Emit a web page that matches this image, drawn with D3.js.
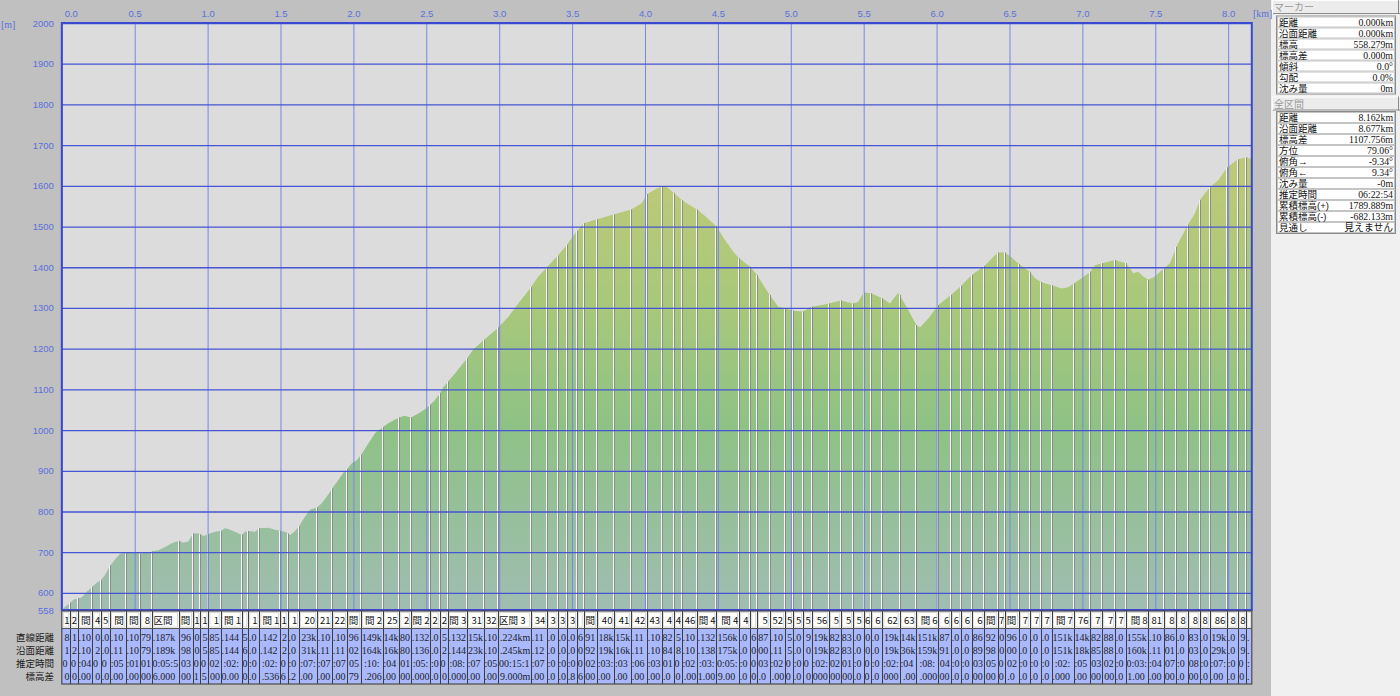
<!DOCTYPE html>
<html><head><meta charset="utf-8">
<script src="https://cdn.jsdelivr.net/npm/d3@7"></script>
<style>body{margin:0;background:#c0c0c0;} svg{display:block}</style>
</head><body><svg id="c" width="1400" height="696"></svg>
<script>
// ---------------- data ----------------
const profileKm = [0,0.022,0.058,0.079,0.109,0.136,0.171,0.209,0.239,0.269,0.296,0.331,0.365,0.399,0.438,0.502,0.538,0.582,0.617,0.662,0.708,0.754,0.804,0.833,0.868,0.900,0.936,0.975,1.005,1.051,1.090,1.119,1.142,1.188,1.234,1.257,1.279,1.325,1.355,1.416,1.462,1.531,1.565,1.595,1.627,1.668,1.702,1.750,1.783,1.817,1.855,1.896,1.931,1.956,1.988,2.023,2.057,2.102,2.148,2.201,2.239,2.285,2.315,2.349,2.395,2.445,2.491,2.527,2.560,2.592,2.617,2.647,2.697,2.743,2.779,2.822,2.894,2.949,2.994,3.062,3.131,3.177,3.218,3.268,3.328,3.401,3.465,3.520,3.580,3.671,3.789,3.904,3.977,4.014,4.069,4.115,4.137,4.160,4.197,4.252,4.297,4.357,4.412,4.489,4.549,4.606,4.645,4.722,4.768,4.855,4.914,4.960,5.015,5.084,5.143,5.212,5.262,5.344,5.427,5.463,5.500,5.550,5.628,5.680,5.733,5.747,5.806,5.861,5.886,5.943,6.012,6.099,6.167,6.241,6.327,6.419,6.469,6.515,6.565,6.639,6.675,6.716,6.789,6.858,6.903,6.940,6.995,7.054,7.086,7.136,7.224,7.297,7.327,7.349,7.383,7.418,7.452,7.498,7.558,7.601,7.644,7.722,7.772,7.805,7.873,7.932,7.992,8.065,8.124,8.162];
const profileElev = [558.3,566,576,583,587,589,603,615,625,632,644,667,682,696,699,699,697,700,702,705,713,722,728,723,726,746,746,740,745,750,752,759,757,750,742,750,752,750,759,760,755,750,742,750,764,787,804,810,820,836,857,877,895,904,918,926,941,967,992,1007,1017,1026,1031,1035,1031,1041,1051,1062,1074,1090,1105,1119,1139,1160,1176,1198,1221,1238,1252,1278,1311,1332,1351,1377,1400,1428,1455,1483,1508,1518,1530,1542,1557,1580,1591,1599,1600,1594,1583,1565,1555,1542,1526,1501,1467,1438,1422,1401,1381,1332,1303,1299,1293,1291,1303,1307,1311,1318,1311,1315,1338,1336,1324,1311,1336,1332,1295,1258,1252,1274,1307,1332,1354,1381,1403,1436,1436,1424,1408,1389,1373,1364,1356,1348,1351,1360,1373,1389,1405,1410,1418,1410,1397,1385,1389,1377,1369,1377,1397,1410,1450,1504,1532,1565,1596,1614,1645,1665,1670,1666];
const sectionBounds = [0,0.058,0.109,0.209,0.269,0.331,0.438,0.538,0.617,0.804,0.900,0.950,1.005,1.090,1.234,1.279,1.355,1.497,1.549,1.627,1.750,1.855,1.956,2.052,2.201,2.315,2.395,2.527,2.592,2.647,2.779,2.894,2.994,3.218,3.328,3.401,3.465,3.534,3.580,3.671,3.789,3.904,4.014,4.115,4.197,4.252,4.357,4.489,4.645,4.722,4.768,4.855,4.960,5.015,5.084,5.143,5.262,5.344,5.427,5.500,5.550,5.628,5.747,5.861,6.012,6.099,6.167,6.241,6.327,6.419,6.469,6.565,6.639,6.716,6.789,6.940,7.054,7.136,7.224,7.297,7.452,7.558,7.644,7.722,7.805,7.873,7.992,8.065,8.124,8.162];
const yTicks = [558,600,700,800,900,1000,1100,1200,1300,1400,1500,1600,1700,1800,1900,2000];
const xTickVals = [0,0.5,1,1.5,2,2.5,3,3.5,4,4.5,5,5.5,6,6.5,7,7.5,8];
const xTickLabels = ["0.0","0.5","1.0","1.5","2.0","2.5","3.0","3.5","4.0","4.5","5.0","5.5","6.0","6.5","7.0","7.5","8.0"];
const tableRowLabels = ["直線距離","沿面距離","推定時間","標高差"];
const markerLabels = ["距離","沿面距離","標高","標高差","傾斜","勾配","沈み量"];
const markerValues = ["0.000km","0.000km","558.279m","0.000m","0.0°","0.0%","0m"];
const totalLabels = ["距離","沿面距離","標高差","方位","俯角→","俯角←","沈み量","推定時間","累積標高(+)","累積標高(-)","見通し"];
const totalValues = ["8.162km","8.677km","1107.756m","79.06°","-9.34°","9.34°","-0m","06:22:54","1789.889m","-682.133m","見えません"];

// ---------------- layout ----------------
const W = 1400, H = 696;
const L = 61.8, R = 1251.8, T = 23, B = 610;
const x = d3.scaleLinear().domain([0, 8.162]).range([L, R]);
const y = d3.scaleLinear().domain([558, 2000]).range([B, T]);
const svg = d3.select("#c");
const CJK = "'Noto Sans CJK JP', sans-serif";
const PANEL = "'Liberation Sans', 'Noto Sans CJK JP', sans-serif";
const SERIF = "'Liberation Serif', 'Noto Sans CJK JP', serif";

svg.append("rect").attr("width", W).attr("height", H).attr("fill", "#c0c0c0");
svg.append("rect").attr("x", 1271).attr("width", W - 1271).attr("height", H).attr("fill", "#f0f0f0");

const defs = svg.append("defs");
const grad = defs.append("linearGradient").attr("id", "ag")
  .attr("gradientUnits", "userSpaceOnUse").attr("x1", 0).attr("x2", 0).attr("y1", 150).attr("y2", B);
[[0, "#c0ca78"], [0.33, "#a9c87a"], [0.6, "#8ec285"], [1, "#a0bdb2"]]
  .forEach(s => grad.append("stop").attr("offset", s[0]).attr("stop-color", s[1]));

svg.append("rect").attr("x", L).attr("y", T).attr("width", R - L).attr("height", B - T).attr("fill", "#dcdcdc");

const profile = profileKm.map((k, i) => ({ k, e: profileElev[i] }));
svg.append("path").datum(profile)
  .attr("d", d3.area().x(d => x(d.k)).y0(B).y1(d => y(d.e)))
  .attr("fill", "url(#ag)");

const bis = d3.bisector(d => d.k).left;
function elevAt(k) {
  let i = bis(profile, k);
  if (i <= 0) return profile[0].e;
  if (i >= profile.length) return profile[profile.length - 1].e;
  const a = profile[i - 1], b = profile[i];
  const t = (k - a.k) / (b.k - a.k || 1);
  return a.e + t * (b.e - a.e);
}

// section separators in plot
const inner = sectionBounds.slice(1, -1);
const sepG = svg.append("g");
inner.forEach(b => {
  const xx = Math.round(x(b));
  const yy = y(elevAt(b));
  sepG.append("line").attr("x1", xx - 0.5).attr("x2", xx - 0.5).attr("y1", yy).attr("y2", B)
    .attr("stroke", "#f4f4f4").attr("stroke-width", 1);
  sepG.append("line").attr("x1", xx + 0.5).attr("x2", xx + 0.5).attr("y1", yy).attr("y2", B)
    .attr("stroke", "#8c8c8c").attr("stroke-width", 1);
});

// grid + axes
const gx = svg.append("g").attr("transform", `translate(0,${T})`)
  .call(d3.axisTop(x).tickValues(xTickVals).tickSize(-(B - T)).tickPadding(6)
    .tickFormat((d, i) => xTickLabels[i]));
gx.select(".domain").remove();
gx.selectAll("line").attr("stroke", "#7787e6").attr("stroke-width", 1);
gx.selectAll("text").attr("fill", "#5a70dc").style("font-family", "'Liberation Sans', sans-serif").style("font-size", "9.5px");
gx.selectAll(".tick").filter(d => d === 0).select("text").attr("x", 9);

const gy = svg.append("g").attr("transform", `translate(${L},0)`)
  .call(d3.axisLeft(y).tickValues(yTicks).tickSize(-(R - L)).tickPadding(8).tickFormat(d => d));
gy.select(".domain").remove();
gy.selectAll("line").attr("stroke", "#4555d4").attr("stroke-width", 1.3);
gy.selectAll("text").attr("fill", "#5a70dc").style("font-family", "'Liberation Sans', sans-serif").style("font-size", "9.5px");

svg.append("rect").attr("x", L).attr("y", T).attr("width", R - L).attr("height", B - T)
  .attr("fill", "none").attr("stroke", "#3a48d2").attr("stroke-width", 2);

svg.append("text").attr("x", 1).attr("y", 28).text("[m]")
  .attr("fill", "#5a70dc").style("font-family", SERIF).style("font-size", "10px");
svg.append("text").attr("x", 1253).attr("y", 17).text("[km]")
  .attr("fill", "#5a70dc").style("font-family", SERIF).style("font-size", "10px");

// ---------------- section table ----------------
const TT = 611, HB = 628.5, TB = 684;
const rowY = [637.5, 650.5, 663.5, 676.5];
function fmtTime(h) {
  const s = Math.round(h * 3600);
  const p = n => String(n).padStart(2, "0");
  return p(Math.floor(s / 3600)) + ":" + p(Math.floor(s % 3600 / 60)) + ":" + p(s % 60);
}
// a cell shows the longest run of its text that fits, nearest the text centre (the reference clips cell texts)
function fitCell(sel, x0, x1) {
  const node = sel.node();
  const s = sel.text(), n = s.length;
  const avail = x1 - x0 - 1.5;
  const pos = [0];
  for (let i = 1; i <= n; i++) pos.push(node.getSubStringLength(0, i));
  const full = pos[n];
  if (full <= avail) return;
  const centre = full / 2;
  let best = null;
  for (let i = 0; i < n; i++) {
    for (let j = i; j < n; j++) {
      const w = pos[j + 1] - pos[i];
      if (w > avail) break;
      const sub = s.slice(i, j + 1);
      if (!sub.trim()) continue;
      const mid = (pos[i] + pos[j + 1]) / 2;
      const score = (j - i + 1) * 1000 - Math.abs(mid - centre);
      if (!best || score > best.score) best = { score, sub, mid, w };
    }
  }
  if (!best) { sel.text(""); return; }
  const start = (x0 + x1) / 2 - full / 2;
  let cxp = start + best.mid;
  cxp = Math.max(x0 + 0.75 + best.w / 2, Math.min(x1 - 0.75 - best.w / 2, cxp));
  sel.text(best.sub).attr("x", cxp).attr("text-anchor", "middle");
}
const sections = d3.range(sectionBounds.length - 1).map(i => {
  const d0 = sectionBounds[i], d1 = sectionBounds[i + 1];
  const dk = d1 - d0, dh = elevAt(d1) - elevAt(d0);
  const sk = Math.sqrt(dk * dk + (dh / 1000) * (dh / 1000));
  const hrs = dk / 4 + Math.max(dh, 0) / 500 + Math.max(-dh, 0) / 1500;
  return {
    i, d0, d1,
    vals: [d3.format(".3f")(dk) + "km", d3.format(".3f")(sk) + "km", fmtTime(hrs), d3.format(".3f")(dh) + "m"]
  };
});

svg.append("rect").attr("x", L).attr("y", TT).attr("width", R - L).attr("height", HB - TT).attr("fill", "#f6f6f6");
svg.append("rect").attr("x", L).attr("y", HB).attr("width", R - L).attr("height", TB - HB).attr("fill", "#a9b9fb");

const tg = svg.append("g");
sections.forEach(s => {
  const x0 = x(s.d0), x1 = x(s.d1), cx = (x0 + x1) / 2;
  tg.append("rect").attr("x", x0 + 1.5).attr("y", TT + 1.5).attr("width", Math.max(0, x1 - x0 - 3)).attr("height", HB - TT - 3)
    .attr("fill", "#ffffff").attr("stroke", "#d8d8d8").attr("stroke-width", 1);
  const ht = tg.append("text").attr("x", cx).attr("y", 623.5).attr("text-anchor", "middle")
    .text("区間 " + (s.i + 1)).attr("fill", "#111").style("font-family", CJK).style("font-size", "9.5px");
  fitCell(ht, x0, x1);
  s.vals.forEach((v, r) => {
    const vt = tg.append("text").attr("x", cx).attr("y", rowY[r] + 3.5).attr("text-anchor", "middle")
      .text(v).attr("fill", "#1e1e2a").style("font-family", SERIF).style("font-size", "10px");
    fitCell(vt, x0, x1);
  });
});
inner.forEach(b => {
  const xx = Math.round(x(b)) + 0.5;
  tg.append("line").attr("x1", xx).attr("x2", xx).attr("y1", TT).attr("y2", TB)
    .attr("stroke", "#3c3c3c").attr("stroke-width", 1);
});
tg.append("line").attr("x1", L).attr("x2", R).attr("y1", HB).attr("y2", HB).attr("stroke", "#555").attr("stroke-width", 1);
tg.append("rect").attr("x", L).attr("y", TT).attr("width", R - L).attr("height", TB - TT)
  .attr("fill", "none").attr("stroke", "#4a4a4a").attr("stroke-width", 1.2);

tableRowLabels.forEach((t, r) => {
  svg.append("text").attr("x", 54).attr("y", rowY[r] + 3.5).attr("text-anchor", "end")
    .text(t).attr("fill", "#222").style("font-family", CJK).style("font-size", "9.5px");
});

// ---------------- right panel ----------------
function header(y0, label) {
  svg.append("rect").attr("x", 1272).attr("y", y0).attr("width", 128).attr("height", 14).attr("fill", "#ececec");
  svg.append("line").attr("x1", 1272).attr("x2", 1400).attr("y1", y0 + 0.5).attr("y2", y0 + 0.5).attr("stroke", "#ffffff");
  svg.append("line").attr("x1", 1272).attr("x2", 1400).attr("y1", y0 + 13.5).attr("y2", y0 + 13.5).attr("stroke", "#8a8a8a");
  svg.append("line").attr("x1", 1272.5).attr("x2", 1272.5).attr("y1", y0).attr("y2", y0 + 14).attr("stroke", "#ffffff");
  svg.append("line").attr("x1", 1398.5).attr("x2", 1398.5).attr("y1", y0).attr("y2", y0 + 14).attr("stroke", "#8a8a8a");
  svg.append("text").attr("x", 1274).attr("y", y0 + 11).text(label)
    .attr("fill", "#9a9a9a").style("font-family", CJK).style("font-size", "10px");
}
function box(y0, labels, values) {
  const rh = 11;
  svg.append("rect").attr("x", 1276.5).attr("y", y0 - 0.5).attr("width", 119).attr("height", labels.length * rh + 1)
    .attr("fill", "#ffffff").attr("stroke", "#8a8a8a");
  labels.forEach((l, i) => {
    const ty = y0 + i * rh;
    svg.append("rect").attr("x", 1277.5).attr("y", ty + 0.5).attr("width", 117).attr("height", rh - 1)
      .attr("fill", "#ffffff").attr("stroke", "#c4c4c4").attr("stroke-width", 1);
  });
  const lt = svg.append("text").attr("fill", "#111").style("font-family", PANEL).style("font-size", "9.5px");
  labels.forEach((l, i) => lt.append("tspan").attr("x", 1279).attr("y", y0 + i * rh + 9).text(l));
  const vt = svg.append("text").attr("fill", "#111").attr("text-anchor", "end")
    .style("font-family", SERIF).style("font-size", "9.8px");
  values.forEach((v, i) => vt.append("tspan").attr("x", 1393).attr("y", y0 + i * rh + 9).text(v));
}
header(0, "マーカー");
box(16.5, markerLabels, markerValues);
header(96.5, "全区間");
box(112, totalLabels, totalValues);
</script></body></html>
